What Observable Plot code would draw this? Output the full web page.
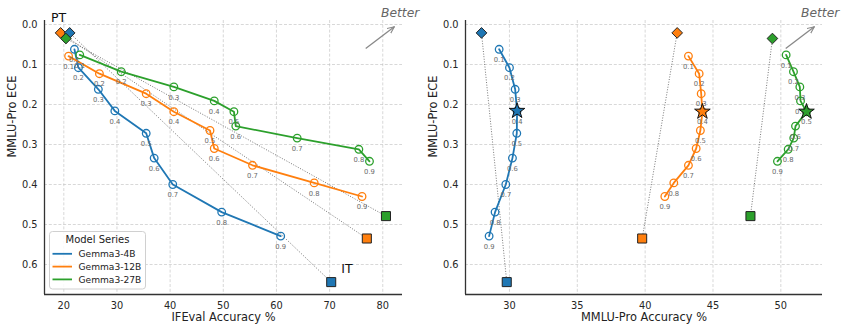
<!DOCTYPE html>
<html><head><meta charset="utf-8">
<script src="https://cdn.jsdelivr.net/npm/d3@7"></script>
<script src="https://cdn.jsdelivr.net/npm/@observablehq/plot@0.6"></script>
<style>
body{margin:0;background:#fff;font-family:"DejaVu Sans",sans-serif;}
#wrap{position:relative;width:848px;height:333px;display:flex;overflow:hidden;}
.panel{position:relative;height:333px;}
.overlay{position:absolute;left:0;top:0;pointer-events:none;overflow:visible;}
</style></head><body>
<div id="wrap"></div>
<script>
// ---- data ----
const series = ["Gemma3-4B", "Gemma3-12B", "Gemma3-27B"];
const colors = ["#1f77b4", "#ff7f0e", "#2ca02c"];
const strengths = [0.1, 0.2, 0.3, 0.4, 0.5, 0.6, 0.7, 0.8, 0.9];

// MMLU-Pro ECE per steering strength
const ece4B  = [0.062, 0.108, 0.162, 0.216, 0.272, 0.334, 0.400, 0.469, 0.529];
const ece12B = [0.079, 0.123, 0.173, 0.218, 0.265, 0.310, 0.352, 0.396, 0.430];
const ece27B = [0.076, 0.118, 0.156, 0.191, 0.218, 0.254, 0.284, 0.312, 0.342];

// IFEval accuracy %
const ifeval4B  = [22.0, 22.75, 26.5, 29.6, 35.5, 37.0, 40.5, 49.7, 60.8];
const ifeval12B = [20.9, 26.7, 35.5, 40.7, 47.5, 48.3, 55.5, 67.1, 76.1];
const ifeval27B = [23.0, 30.8, 40.7, 48.3, 52.0, 52.35, 63.9, 75.5, 77.5];

// MMLU-Pro accuracy %
const mmlu4B  = [29.24, 30.0, 30.42, 30.56, 30.54, 30.22, 29.73, 28.94, 28.5];
const mmlu12B = [43.19, 43.98, 44.13, 44.22, 44.07, 43.76, 43.19, 42.11, 41.45];
const mmlu27B = [50.39, 50.93, 51.4, 51.45, 51.89, 51.08, 50.95, 50.54, 49.75];

// PT (pre-trained) and IT (instruction-tuned) reference models, per series
const ptECE = [0.021, 0.021, 0.035];
const ptIFEval = [21.1, 19.4, 20.4];
const ptMMLU = [27.94, 42.36, 49.38];
const itECE = [0.644, 0.535, 0.479];
const itIFEval = [70.3, 77.0, 80.6];
const itMMLU = [29.8, 39.78, 47.76];

// best strength (star) per series, shown on the MMLU panel
const bestStrength = [0.4, 0.4, 0.5];

const yTicks = [0.0, 0.1, 0.2, 0.3, 0.4, 0.5, 0.6];
const ifevalTicks = [20, 30, 40, 50, 60, 70, 80];
const mmluTicks = [30, 35, 40, 45, 50];

// ---- build ----
const eces = [ece4B, ece12B, ece27B];
function rowsFor(xs) {
  const out = [];
  series.forEach((s, i) => strengths.forEach((st, j) =>
    out.push({series: s, strength: st, x: xs[i][j], y: eces[i][j]})));
  return out;
}
function refRows(ptX, itX) {
  return series.map((s, i) => ({series: s, x1: ptX[i], y1: ptECE[i], x2: itX[i], y2: itECE[i]}));
}

const font = '"DejaVu Sans", sans-serif';
const grid = {stroke: "#bdbdbd", strokeOpacity: 0.75, strokeWidth: 0.8, strokeDasharray: "3,1.8"};

function panel({xs, ptX, itX, xDomain, xTicks, xLabel, width, ml, mr, stars, annotate}) {
  const rows = rowsFor(xs);
  const refs = refRows(ptX, itX);
  const pt = refs.map(d => ({series: d.series, x: d.x1, y: d.y1}));
  const it = refs.map(d => ({series: d.series, x: d.x2, y: d.y2}));
  const starRows = stars ? rows.filter(d => d.strength === bestStrength[series.indexOf(d.series)]) : [];
  const yDomain = [-0.01, 0.675];
  const marks = [
    Plot.gridX(xTicks, grid),
    Plot.gridY(yTicks, grid),
    Plot.link(refs, {x1: "x1", y1: "y1", x2: "x2", y2: "y2", stroke: "#555", strokeWidth: 0.8, strokeDasharray: "1,1.6"}),
    Plot.line(rows, {x: "x", y: "y", z: "series", stroke: "series", strokeWidth: 1.8}),
    Plot.dot(rows, {x: "x", y: "y", r: 3.8, stroke: "series", fill: "none", strokeWidth: 1.3}),
    Plot.text(rows, {x: "x", y: "y", text: d => d.strength.toFixed(1), dy: 10.5, fill: "#6a6a6a", fontSize: 6.8}),
    Plot.dot(starRows, {x: "x", y: "y", symbol: "star", r: 4.9, fill: "series", stroke: "#111", strokeWidth: 1}),
    Plot.dot([pt[1], pt[0], pt[2]], {x: "x", y: "y", symbol: "diamond2", r: 4.8, fill: "series", stroke: "#222", strokeWidth: 1}),
    Plot.dot(it, {x: "x", y: "y", symbol: "square", r: 5.1, fill: "series", stroke: "#222", strokeWidth: 1}),
    Plot.ruleX([xDomain[0]], {stroke: "#333", strokeWidth: 1.3}),
    Plot.ruleY([yDomain[1]], {stroke: "#333", strokeWidth: 1.3}),
    Plot.text([xLabel], {frameAnchor: "bottom", dy: 26, fontSize: 11.4, fill: "#222"}),
    Plot.text(["MMLU-Pro ECE"], {frameAnchor: "left", dx: -32, rotate: -90, fontSize: 11.4, fill: "#222"})
  ];
  if (annotate) {
    marks.push(Plot.text([pt[1]], {x: "x", y: "y", text: () => "PT", dx: -2, dy: -14.5, fontSize: 12.5, fill: "#111"}));
    marks.push(Plot.text([it[0]], {x: "x", y: "y", text: () => "IT", dx: 10, dy: -13, textAnchor: "start", fontSize: 12.5, fill: "#111"}));
  }
  return Plot.plot({
    width, height: 333, marginLeft: ml, marginRight: mr, marginTop: 20, marginBottom: 39,
    style: {fontFamily: font, fontSize: "9.8px", color: "#262626", background: "transparent", overflow: "visible"},
    x: {domain: xDomain, ticks: xTicks, tickSize: 0, tickPadding: 8, tickFormat: d => String(d), label: null},
    y: {domain: yDomain, reverse: true, ticks: yTicks, tickSize: 0, tickPadding: 7, tickFormat: d3.format(".1f"), label: null},
    color: {domain: series, range: colors},
    marks
  });
}

function betterOverlay(w) {
  const svg = d3.create("svg").attr("class", "overlay").attr("width", w).attr("height", 333);
  svg.append("defs").append("marker").attr("id", "ah" + w).attr("viewBox", "0 0 10 10")
    .attr("refX", 9).attr("refY", 5).attr("markerWidth", 6).attr("markerHeight", 6).attr("orient", "auto")
    .append("path").attr("d", "M0,1 L9,5 L0,9").attr("fill", "none").attr("stroke", "#888").attr("stroke-width", 1.4);
  svg.append("line").attr("x1", 365.7).attr("y1", 48.5).attr("x2", 394.3).attr("y2", 26.8)
    .attr("stroke", "#888").attr("stroke-width", 1.3).attr("marker-end", `url(#ah${w})`);
  svg.append("text").attr("x", 381).attr("y", 17.3).attr("font-family", font).attr("font-style", "italic")
    .attr("font-size", 12.3).attr("fill", "#666").text("Better");
  return svg.node();
}

function legendOverlay() {
  const svg = d3.create("svg").attr("class", "overlay").attr("width", 420).attr("height", 333);
  const g = svg.append("g").attr("transform", "translate(49.5,231.5)");
  g.append("rect").attr("width", 96).attr("height", 57.5).attr("rx", 3)
    .attr("fill", "rgba(255,255,255,0.85)").attr("stroke", "#d0d0d0").attr("stroke-width", 1);
  g.append("text").attr("x", 48).attr("y", 11.5).attr("text-anchor", "middle").attr("font-family", font)
    .attr("font-size", 10).attr("fill", "#222").text("Model Series");
  series.forEach((s, i) => {
    const y = 22.3 + i * 12.8;
    g.append("line").attr("x1", 3).attr("x2", 22.5).attr("y1", y).attr("y2", y).attr("stroke", colors[i]).attr("stroke-width", 1.8);
    g.append("text").attr("x", 29).attr("y", y + 3.3).attr("font-family", font).attr("font-size", 9.1).attr("fill", "#222").text(s);
  });
  return svg.node();
}

const wrap = document.getElementById("wrap");
const left = document.createElement("div"); left.className = "panel"; left.style.width = "420px";
const right = document.createElement("div"); right.className = "panel"; right.style.width = "428px";
wrap.append(left, right);

left.append(panel({xs: [ifeval4B, ifeval12B, ifeval27B], ptX: ptIFEval, itX: itIFEval,
  xDomain: [16.37, 83.71], xTicks: ifevalTicks, xLabel: "IFEval Accuracy %", width: 420, ml: 44, mr: 18, stars: false, annotate: true}));
left.append(legendOverlay());
left.append(betterOverlay(420));

right.append(panel({xs: [mmlu4B, mmlu12B, mmlu27B], ptX: ptMMLU, itX: itMMLU,
  xDomain: [26.76, 53.07], xTicks: mmluTicks, xLabel: "MMLU-Pro Accuracy %", width: 428, ml: 45, mr: 26, stars: true, annotate: false}));
right.append(betterOverlay(428));
</script>
</body></html>
